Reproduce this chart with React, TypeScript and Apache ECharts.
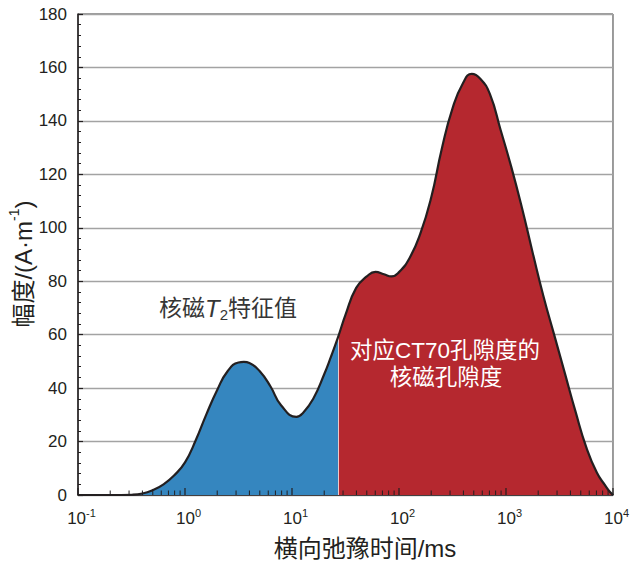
import { useEffect, useRef } from 'react';
import * as echarts from 'echarts';

// Transverse relaxation time T2 (ms) and NMR amplitude (A·m^-1)
const t2Ms = [
  0.1, 0.2, 0.32, 0.4, 0.5, 0.63, 0.79, 1, 1.26, 1.58, 2, 2.5, 3.16, 3.55, 4, 5,
  6.3, 7.9, 11, 12.6, 15.8, 20, 23.1, 27, 31.6, 39.8, 50, 60.3, 72.4, 85.1, 100,
  126, 158, 200, 251, 316, 398, 479, 575, 708, 891, 1122, 1413, 1778, 2239,
  2818, 3548, 4467, 5623, 7079, 8511, 9333, 10000,
];
const amplitude = [
  0, 0, 0.1, 0.55, 1.85, 4.0, 7.3, 12.2, 20.5, 30.1, 39.3, 46.3, 49.6, 49.8, 49.4, 46.3,
  40.6, 33.6, 29.2, 30.6, 36, 45.2, 51.7, 59.2, 67.4, 77.5, 81.8, 83.5, 82.6, 81.8, 83.4,
  88.8, 97.7, 111.3, 129.5, 144.6, 154.3, 157.6, 155.8, 150, 136.6, 122.7, 107.3, 90.6, 74.4,
  60, 45.6, 31.2, 17.9, 8.3, 3.4, 1.2, 0,
];

// T2 value that separates the CT70-equivalent porosity from the rest
const cutoffMs = 27;
const cutoffAmplitude = 59.2;

// Axis ticks
const xDecadeValues = [0.1, 1, 10, 100, 1000, 10000];
const xDecadeExponents = ['-1', '0', '1', '2', '3', '4'];
const xMinorMantissas = [2, 3, 4, 5, 6, 7, 8, 9];
const yMin = 0;
const yMax = 180;
const yInterval = 20;

// Text
const xTitle = '横向弛豫时间/ms';
const yTitleMain = '幅度/(A·m';
const yTitleSup = '-1';
const yTitleEnd = ')';
const peakLabelParts = ['核磁', 'T', '2', '特征值'];
const poreLabelLines = ['对应CT70孔隙度的', '核磁孔隙度'];

const BLUE = '#3586bf';
const RED = '#b5282f';
const INK = '#231f20';
const FONT = "'Liberation Sans', Arial, 'Noto Sans CJK SC', sans-serif";

export default function App() {
  const ref = useRef<HTMLDivElement>(null);

  useEffect(() => {
    if (!ref.current) return;
    const chart = echarts.init(ref.current, null, { renderer: 'svg' });

    const points = t2Ms.map((t, i) => [t, amplitude[i]]);

    // Decade ticks plus 2..9 subdivisions of each decade
    const xTicks: number[][] = [];
    xDecadeValues.forEach((d, i) => {
      xTicks.push([d, yMin]);
      if (i < xDecadeValues.length - 1) {
        xMinorMantissas.forEach((m) => xTicks.push([+(d * m).toPrecision(3), yMin]));
      }
    });
    const isDecade = (v: number) =>
      xDecadeValues.some((d) => Math.abs(Math.log10(d) - Math.log10(v)) < 1e-6);

    chart.setOption({
      animation: false,
      textStyle: { fontFamily: FONT },
      grid: {
        left: 78,
        right: 14,
        top: 14,
        bottom: 66,
        show: true,
        borderColor: '#3a3a3a',
        borderWidth: 1,
        backgroundColor: 'transparent',
      },
      xAxis: {
        type: 'log',
        logBase: 10,
        min: xDecadeValues[0],
        max: xDecadeValues[xDecadeValues.length - 1],
        axisLine: { show: true, lineStyle: { color: INK, width: 1.5 } },
        axisTick: { show: false },
        axisLabel: {
          margin: 12,
          padding: [0, 0, 0, 7],
          formatter: (v: number) => {
            const idx = xDecadeValues.findIndex((d) => Math.abs(Math.log10(d) - Math.log10(v)) < 1e-6);
            return `{b|10}{s|${xDecadeExponents[idx] ?? ''}}`;
          },
          rich: {
            b: { fontSize: 17, color: INK, lineHeight: 20, verticalAlign: 'bottom', fontFamily: FONT },
            s: { fontSize: 11, color: INK, lineHeight: 13, verticalAlign: 'top', fontFamily: FONT },
          },
        },
        splitLine: { show: false },
      },
      yAxis: {
        type: 'value',
        min: yMin,
        max: yMax,
        interval: yInterval,
        axisLine: { show: true, lineStyle: { color: INK, width: 1.5 } },
        axisTick: { show: true, inside: true, length: 5, lineStyle: { color: INK, width: 1.2 } },
        minorTick: { show: true, splitNumber: 5, length: 3, lineStyle: { color: INK, width: 1 } },
        splitLine: { show: true, lineStyle: { color: '#a3a3a3', width: 1.3 } },
        axisLabel: { fontSize: 17, color: INK, margin: 11, fontFamily: FONT },
      },
      series: [
        {
          id: 'fill',
          type: 'line',
          data: points,
          smooth: 0.5,
          symbol: 'none',
          lineStyle: { width: 0 },
          areaStyle: { opacity: 1, color: BLUE },
          silent: true,
          markLine: {
            silent: true,
            symbol: 'none',
            label: { show: false },
            lineStyle: { color: 'rgba(255,255,255,0.75)', width: 1, type: 'solid' },
            data: [[{ coord: [cutoffMs, 0] }, { coord: [cutoffMs, cutoffAmplitude] }]],
          },
        },
        {
          id: 'outline',
          type: 'line',
          data: points,
          smooth: 0.5,
          symbol: 'none',
          lineStyle: { color: INK, width: 2.2 },
          z: 5,
          silent: true,
        },
        {
          // inward tick marks on the logarithmic T2 axis
          id: 'xTicks',
          type: 'custom',
          data: xTicks,
          z: 6,
          silent: true,
          clip: false,
          renderItem: (_params: any, api: any) => {
            const v = api.value(0);
            const p = api.coord([v, yMin]);
            const len = isDecade(v) ? 7 : 4.5;
            return {
              type: 'line',
              shape: { x1: p[0], y1: p[1], x2: p[0], y2: p[1] - len },
              style: { stroke: INK, lineWidth: isDecade(v) ? 1.2 : 1 },
            };
          },
        },
      ],
      graphic: [
        {
          type: 'text',
          x: 228,
          y: 308,
          z: 100,
          style: {
            text: `{a|${peakLabelParts[0]}}{i|${peakLabelParts[1]}}{sub|${peakLabelParts[2]}}{a|${peakLabelParts[3]}}`,
            align: 'center',
            verticalAlign: 'middle',
            rich: {
              a: { fontSize: 23, fill: '#363636', lineHeight: 28, verticalAlign: 'middle', fontFamily: FONT },
              i: { fontSize: 24, fill: '#363636', fontStyle: 'italic', lineHeight: 28, verticalAlign: 'middle', fontFamily: FONT },
              sub: { fontSize: 15, fill: '#363636', lineHeight: 15, verticalAlign: 'bottom', fontFamily: FONT },
            },
          },
        },
        {
          type: 'text',
          x: 445,
          y: 350,
          z: 100,
          style: {
            text: poreLabelLines[0],
            align: 'center',
            verticalAlign: 'middle',
            fontSize: 22.5,
            fill: '#ffffff',
            fontFamily: FONT,
          },
        },
        {
          type: 'text',
          x: 446,
          y: 377,
          z: 100,
          style: {
            text: poreLabelLines[1],
            align: 'center',
            verticalAlign: 'middle',
            fontSize: 22.5,
            fill: '#ffffff',
            fontFamily: FONT,
          },
        },
        {
          type: 'text',
          x: 365,
          y: 548,
          z: 100,
          style: {
            text: xTitle,
            align: 'center',
            verticalAlign: 'middle',
            fontSize: 24,
            fill: INK,
            fontFamily: FONT,
          },
        },
        {
          type: 'text',
          x: 21,
          y: 264,
          z: 100,
          rotation: Math.PI / 2,
          style: {
            text: `{a|${yTitleMain}}{s|${yTitleSup}}{a|${yTitleEnd}}`,
            align: 'center',
            verticalAlign: 'middle',
            rich: {
              a: { fontSize: 24, fill: INK, lineHeight: 28, verticalAlign: 'bottom', fontFamily: FONT },
              s: { fontSize: 14, fill: INK, lineHeight: 17, verticalAlign: 'top', fontFamily: FONT },
            },
          },
        },
      ],
    });

    // Split the fill colour at the cutoff T2, placed through the x axis scale
    const cutX = chart.convertToPixel({ xAxisIndex: 0 }, cutoffMs) as number;
    const leftX = chart.convertToPixel({ xAxisIndex: 0 }, xDecadeValues[0]) as number;
    const rightX = chart.convertToPixel({ xAxisIndex: 0 }, xDecadeValues[xDecadeValues.length - 1]) as number;
    const f = (cutX - leftX) / (rightX - leftX);
    chart.setOption({
      series: [
        {
          id: 'fill',
          areaStyle: {
            opacity: 1,
            color: new echarts.graphic.LinearGradient(
              leftX,
              0,
              rightX,
              0,
              [
                { offset: 0, color: BLUE },
                { offset: f, color: BLUE },
                { offset: f, color: RED },
                { offset: 1, color: RED },
              ],
              true
            ),
          },
        },
      ],
    });

    return () => chart.dispose();
  }, []);

  return (
    <div
      ref={ref}
      style={{ position: 'absolute', left: 0, top: 0, width: 632, height: 561, background: '#ffffff' }}
    />
  );
}
